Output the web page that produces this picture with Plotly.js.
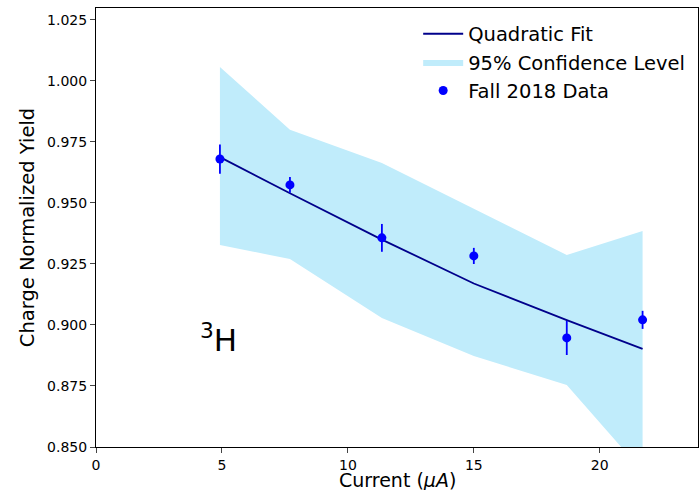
<!DOCTYPE html>
<html><head><meta charset="utf-8">
<script src="https://cdn.plot.ly/plotly-3.0.1.min.js"></script>
<style>html,body{margin:0;padding:0;background:#fff;}#chart{width:700px;height:490px;}</style>
</head><body><div id="chart"></div>
<script>
const current = [4.92, 7.70, 11.35, 15.0, 18.69, 21.7];
const yieldVals = [0.9680, 0.9574, 0.9357, 0.9283, 0.8947, 0.9021];
const yieldErr = [0.0060, 0.0032, 0.0057, 0.0033, 0.0070, 0.0037];
const fitVals = [0.9688, 0.9540, 0.9350, 0.9170, 0.9020, 0.8902];
const bandUpper = [1.0057, 0.9800, 0.9664, 0.9475, 0.9287, 0.9385];
const bandLower = [0.9328, 0.9270, 0.9029, 0.8873, 0.8754, 0.8400];

const font = 'DejaVu Sans, sans-serif';
const bandX = current.concat(current.slice().reverse());
const bandY = bandUpper.concat(bandLower.slice().reverse());

const traces = [
  {x: bandX, y: bandY, type: 'scatter', mode: 'lines', fill: 'toself', name: '95% Confidence Level',
   fillcolor: '#c0ecfb', line: {width: 0, color: '#c0ecfb'}, legendrank: 2},
  {x: current, y: fitVals, type: 'scatter', mode: 'lines', name: 'Quadratic Fit',
   line: {color: '#00008b', width: 1.8}, legendrank: 1},
  {x: current, y: yieldVals, type: 'scatter', mode: 'markers', name: 'Fall 2018 Data',
   marker: {color: '#0000ff', size: 9}, legendrank: 3,
   error_y: {type: 'data', array: yieldErr, visible: true, color: '#0000ff', thickness: 1.8, width: 0}}
];

const layout = {
  width: 700, height: 490,
  margin: {l: 96, r: 2, t: 8, b: 43},
  paper_bgcolor: '#fff', plot_bgcolor: '#fff',
  font: {family: font, color: '#000'},
  showlegend: true,
  legend: {x: 0.987, y: 0.985, xanchor: 'right', yanchor: 'top', bgcolor: 'rgba(255,255,255,0)',
           font: {size: 19.5, family: font}, traceorder: 'normal', tracegroupgap: 0, itemwidth: 40},
  xaxis: {range: [0, 23.9], tickvals: [0, 5, 10, 15, 20], ticks: 'outside', ticklen: 5,
          tickfont: {size: 14, family: font}, showgrid: false, zeroline: false,
          showline: true, linecolor: '#000', linewidth: 1, mirror: true, automargin: false},
  yaxis: {range: [0.85, 1.0299], tickvals: [0.85, 0.875, 0.9, 0.925, 0.95, 0.975, 1.0, 1.025],
          tickformat: '.3f', ticks: 'outside', ticklen: 5,
          tickfont: {size: 14, family: font}, showgrid: false, zeroline: false,
          showline: true, linecolor: '#000', linewidth: 1, mirror: true, automargin: false,
          title: {text: 'Charge Normalized Yield', font: {size: 19.5, family: font}, standoff: 7}},
  annotations: [
    {x: 4.85, y: 0.8945, xref: 'x', yref: 'y', showarrow: false,
     text: '<sup>3</sup>H', font: {size: 31, family: font, color: '#000'}},
    {x: 0.5, y: 0, xref: 'paper', yref: 'paper', yanchor: 'middle', yshift: -33, showarrow: false,
     text: 'Current (<i>μA</i>)', font: {size: 19, family: font, color: '#000'}}
  ]
};

Plotly.newPlot('chart', traces, layout, {displayModeBar: false, staticPlot: true});
</script></body></html>
